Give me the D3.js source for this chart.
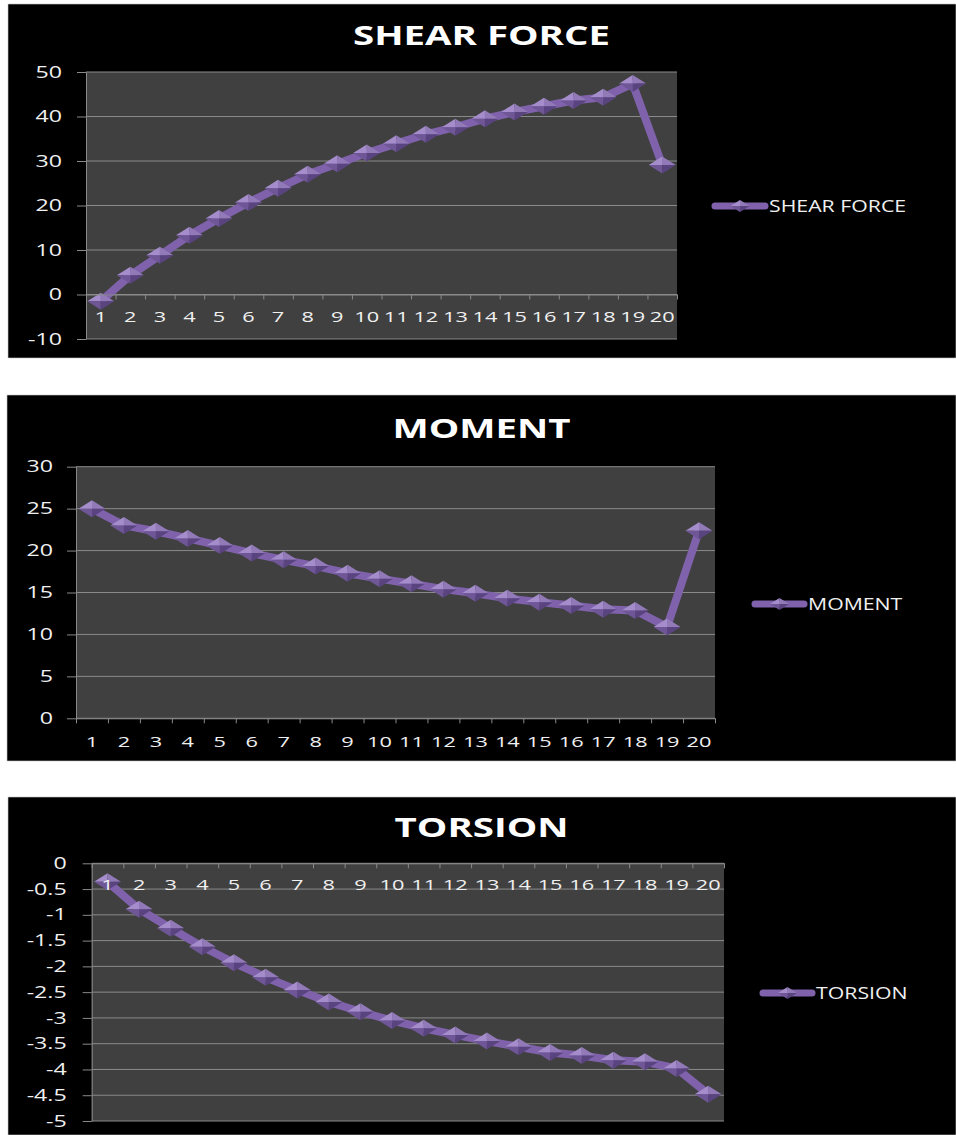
<!DOCTYPE html>
<html>
<head>
<meta charset="utf-8">
<script src="https://cdn.jsdelivr.net/npm/d3@7"></script>
<style>
  body { margin: 0; background: #fff; }
  text { font-family: "Open Sans", "DejaVu Sans", sans-serif; }
</style>
</head>
<body>
<script>
// categories along the beam
let categories = ["1", "2", "3", "4", "5", "6", "7", "8", "9", "10",
    "11", "12", "13", "14", "15", "16", "17", "18", "19", "20"];

let shearForce = [-1.5, 4.3, 8.8, 13.3, 17.1, 20.7, 23.9, 27.0, 29.4, 31.8,
    33.9, 36.0, 37.6, 39.5, 41.0, 42.3, 43.6, 44.3, 47.4, 29.1];
let moment = [25.0, 23.0, 22.3, 21.45, 20.6, 19.7, 18.9, 18.15, 17.3, 16.65,
    16.05, 15.4, 14.9, 14.3, 13.85, 13.45, 13.0, 12.85, 10.9, 22.35];
let torsion = [-0.36, -0.89, -1.26, -1.62, -1.93, -2.21, -2.46, -2.69, -2.88, -3.05,
    -3.20, -3.33, -3.45, -3.56, -3.67, -3.73, -3.82, -3.85, -3.98, -4.48];

let shearTicks = [-10, 0, 10, 20, 30, 40, 50];
let momentTicks = [0, 5, 10, 15, 20, 25, 30];
let torsionTicks = [-5, -4.5, -4, -3.5, -3, -2.5, -2, -1.5, -1, -0.5, 0];

let SX = 1.45; // text in the picture is stretched sideways
let lineColor = "#7f62ab";
let gridColor = "#8a8a8a";
let textColor = "#f0f0f0";

let svg = d3.select("body")
    .append("svg")
    .attr("width", 956)
    .attr("height", 1135);

let panels = [
    {
        title: "SHEAR FORCE", values: shearForce, ticks: shearTicks,
        box: [8, 4, 956, 358], left: 86, right: 677, top: 72, bottom: 339,
        titleY: 45, yLabelGap: 24, xLabelOff: 22, legend: [712, 768, 206]
    },
    {
        title: "MOMENT", values: moment, ticks: momentTicks,
        box: [7, 395, 956, 761], left: 76, right: 715, top: 466.7, bottom: 718.3,
        titleY: 438, yLabelGap: 23, xLabelOff: 23, legend: [752, 807, 604]
    },
    {
        title: "TORSION", values: torsion, ticks: torsionTicks,
        box: [8, 797, 956, 1135], left: 91.7, right: 724, top: 863.3, bottom: 1121,
        titleY: 837, yLabelGap: 25, xLabelOff: 21, legend: [760, 815, 993]
    }
];

function diamond(g, cx, cy, w, h) {
    let t = [cx, cy - h / 2], r = [cx + w / 2, cy], b = [cx, cy + h / 2], l = [cx - w / 2, cy];
    let c = [cx, cy];
    let facets = [
        [[l, t, c], "#a48dca"],
        [[t, r, c], "#927ab9"],
        [[l, c, b], "#6f5696"],
        [[c, r, b], "#5a4480"]
    ];
    facets.forEach(function (f) {
        g.append("path")
            .attr("d", "M" + f[0].map(p => p.join(",")).join("L") + "Z")
            .attr("fill", f[1]);
    });
}

panels.forEach(function (p) {
    let g = svg.append("g");

    g.append("rect")
        .attr("x", p.box[0]).attr("y", p.box[1])
        .attr("width", p.box[2] - p.box[0]).attr("height", p.box[3] - p.box[1])
        .attr("fill", "#000")
        .attr("stroke", "#c8c8c8")
        .attr("stroke-width", 0.6);

    let xBand = d3.scaleBand().domain(categories).range([p.left, p.right]);
    let xEdge = d3.scaleLinear().domain([0, categories.length]).range([p.left, p.right]);
    let yScale = d3.scaleLinear()
        .domain(d3.extent(p.ticks))
        .range([p.bottom, p.top]);

    g.append("rect")
        .attr("x", p.left).attr("y", p.top)
        .attr("width", p.right - p.left).attr("height", p.bottom - p.top)
        .attr("fill", "#404040");

    g.selectAll(".grid")
        .data(p.ticks)
        .enter()
        .append("line")
        .attr("x1", p.left).attr("x2", p.right)
        .attr("y1", d => yScale(d)).attr("y2", d => yScale(d))
        .attr("stroke", gridColor)
        .attr("stroke-width", 1);

    // title
    g.append("text")
        .attr("transform", `translate(481.5, ${p.titleY}) scale(${SX}, 1)`)
        .attr("text-anchor", "middle")
        .attr("font-size", 26.5)
        .attr("font-weight", "bold")
        .attr("fill", "#fff")
        .text(p.title);

    // y axis
    let yAxis = g.append("g")
        .attr("transform", `translate(${p.left}, 0)`)
        .call(d3.axisLeft(yScale).tickValues(p.ticks).tickSize(9).tickSizeOuter(0)
            .tickFormat(d => String(d)));
    yAxis.select(".domain").attr("stroke", gridColor);
    yAxis.selectAll(".tick line").attr("stroke", gridColor);
    yAxis.selectAll(".tick text")
        .attr("x", 0)
        .attr("transform", `translate(${-p.yLabelGap}, 0) scale(${SX}, 1)`)
        .attr("fill", textColor)
        .attr("font-size", 16)
        .attr("font-family", "'Open Sans', sans-serif");

    // series line and markers
    let line = d3.line()
        .x((d, i) => xBand(categories[i]) + xBand.bandwidth() / 2)
        .y(d => yScale(d));

    g.append("path")
        .datum(p.values)
        .attr("d", line)
        .attr("fill", "none")
        .attr("stroke", lineColor)
        .attr("stroke-width", 8)
        .attr("stroke-linejoin", "round");

    p.values.forEach(function (v, i) {
        diamond(g, xBand(categories[i]) + xBand.bandwidth() / 2, yScale(v), 27, 17);
    });

    // x axis at zero
    let zeroY = yScale(0);
    let xTicks = g.append("g")
        .attr("transform", `translate(0, ${zeroY})`)
        .call(d3.axisBottom(xEdge).tickValues(d3.range(0, categories.length + 1))
            .tickSize(5).tickSizeOuter(0).tickFormat(""));
    xTicks.select(".domain").attr("stroke", gridColor);
    xTicks.selectAll(".tick line").attr("stroke", gridColor);

    let xLabels = g.append("g")
        .attr("transform", `translate(0, ${zeroY})`)
        .call(d3.axisBottom(xBand).tickSize(0));
    xLabels.select(".domain").remove();
    xLabels.selectAll(".tick text")
        .attr("y", 0)
        .attr("dy", "0.36em")
        .attr("transform", `translate(0, ${p.xLabelOff}) scale(${SX}, 1)`)
        .attr("fill", textColor)
        .attr("font-size", 15)
        .attr("font-family", "'Open Sans', sans-serif");

    // legend
    let lx1 = p.legend[0], lx2 = p.legend[1], ly = p.legend[2];
    g.append("line")
        .attr("x1", lx1 + 3).attr("x2", lx2 - 3)
        .attr("y1", ly).attr("y2", ly)
        .attr("stroke", lineColor)
        .attr("stroke-width", 7)
        .attr("stroke-linecap", "round");
    diamond(g, (lx1 + lx2) / 2, ly, 19, 12);
    g.append("text")
        .attr("transform", `translate(${lx2 + 1}, ${ly}) scale(1.33, 1)`)
        .attr("dy", "0.36em")
        .attr("font-size", 16)
        .attr("fill", textColor)
        .text(p.title);
});
</script>
</body>
</html>
